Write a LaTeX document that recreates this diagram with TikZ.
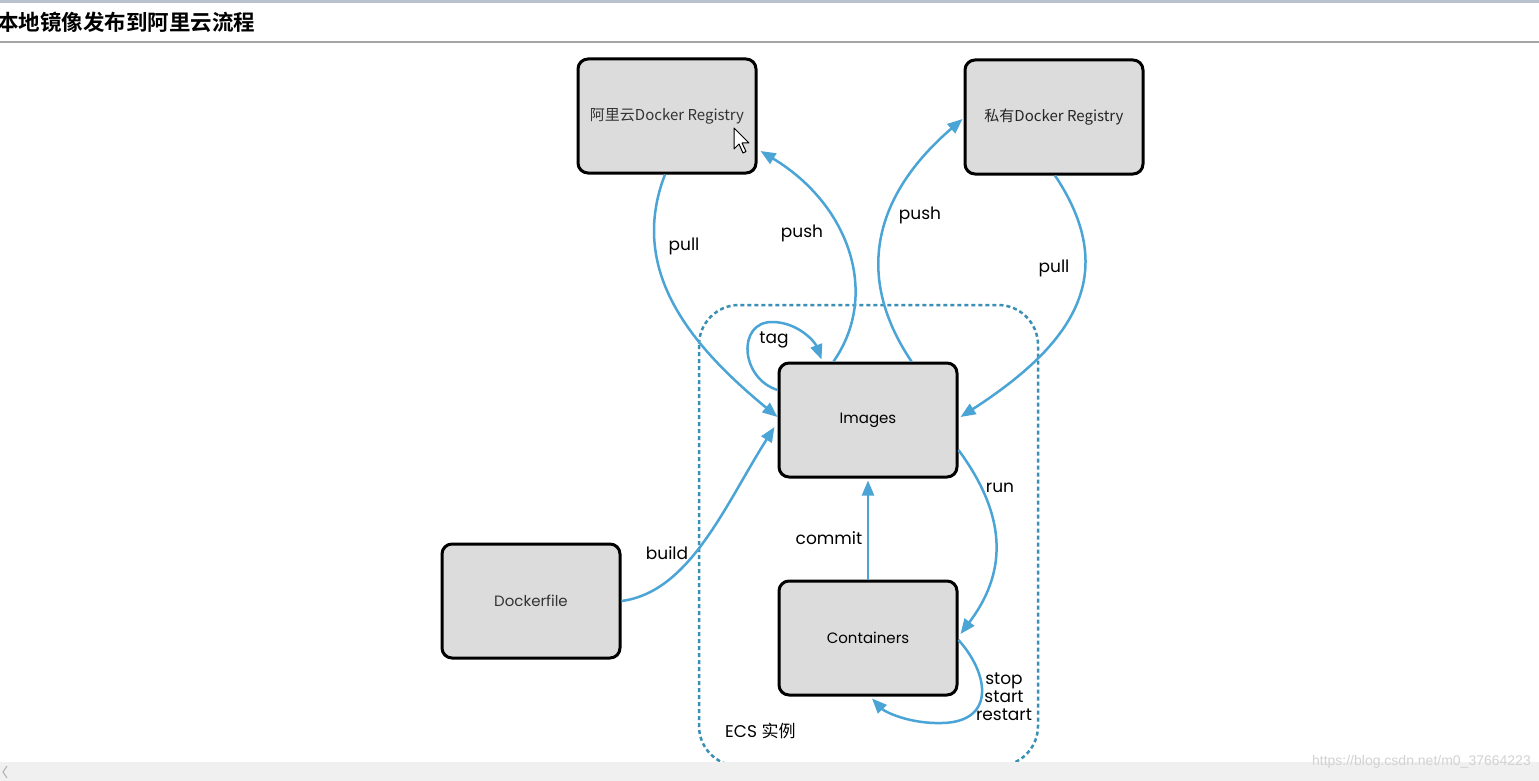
\documentclass[tikz,border=0pt]{standalone}
\usepackage{fontspec}
\setmainfont{Poppins}
\newfontfamily\cjk{Noto Sans CJK SC}
\newfontfamily\cjkb{Noto Sans CJK SC Bold}
\newfontfamily\wm{Liberation Sans}
\usetikzlibrary{arrows.meta,calc}
\definecolor{flow}{HTML}{4AA5D6}
\definecolor{ecs}{HTML}{3A8FB5}
\definecolor{boxfill}{HTML}{DCDCDC}
\definecolor{topline}{HTML}{B8C2CE}
\definecolor{sepline}{HTML}{A5A5A5}
\definecolor{barfill}{HTML}{F0F0F0}
\begin{document}
\begin{tikzpicture}[x=1pt,y=-1pt,
  box/.style={draw=black,line width=3pt,fill=boxfill,rounded corners=10pt,
    minimum width=178pt,minimum height=114pt,inner sep=0pt},
  boxtext/.style={font=\fontsize{15}{18}\selectfont},
  flowline/.style={draw=flow,line width=2.5pt,-{Triangle[length=15pt,width=12pt]}},
  lbl/.style={font=\fontsize{17}{20}\selectfont,inner sep=0pt}]
\useasboundingbox (0,0) rectangle (1539,781);
\fill[white] (0,0) rectangle (1539,781);
% header
\draw[topline,line width=3pt] (0,1.5) -- (1539,1.5);
\node[anchor=west,inner sep=0pt,font=\cjkb\fontsize{21.5}{24}\selectfont] (title) at (-3,22) {本地镜像发布到阿里云流程};
\draw[sepline,line width=2pt] (0,42) -- (1539,42);

% ECS region
\draw[ecs,line width=2.5pt,dash pattern=on 4pt off 3pt,rounded corners=40pt] (699,305) rectangle (1038,766);
\node[lbl,anchor=west] (ecslbl) at (725,731) {ECS {\cjk 实例}};

% boxes
\node[box] (ali) at (667,116) {};
\node[boxtext,text=black!80] at (ali) {{\cjk 阿里云Docker Registry}};
\node[box] (pri) at (1054,117) {};
\node[boxtext,text=black!85] at (pri) {{\cjk 私有Docker Registry}};
\node[box] (img) at (868,420) {};
\node[boxtext] at (img) {Images};
\node[box] (cont) at (868,638) {};
\node[boxtext] at (cont) {Containers};
\node[box] (dock) at (531,601) {};
\node[boxtext,text=black!80] at (dock) {Dockerfile};

% cursor
\filldraw[fill=white,draw=black,line width=1pt,line join=round]
  (734,128) -- (734,149) -- (739,144) -- (743,153) -- (746,151.5) -- (742,143) -- (749,143) -- cycle;

% connectors
\draw[flowline] ($(ali.south)+(-2,0)$) .. controls (628,270) and (690,345) .. ($(img.west)+(0,-3)$);
\node[lbl] (l1) at (684,246) {pull};

\draw[flowline] ($(img.north west)+(56,0)$) .. controls (880,295) and (850,205) .. ($(ali.east)+(3,35)$);
\node[lbl] (l2) at (802,233) {push};

\draw[flowline] ($(img.north west)+(134,0)$) .. controls (850,270) and (880,190) .. ($(pri.west)+(-1,2)$);
\node[lbl] (l3) at (920,215) {push};

\draw[flowline] ($(pri.south)+(1,0)$) .. controls (1118,270) and (1080,340) .. ($(img.east)+(2,-3)$);
\node[lbl] (l4) at (1054,268) {pull};

\draw[flowline] ($(img.west)+(0,-30)$) .. controls (740,378) and (737,322) .. (772,322) .. controls (798,322) and (815,342) .. ($(img.north west)+(44,-2)$);
\node[lbl] (l5) at (774,340) {tag};

\draw[flowline] (dock.east) .. controls (690,592) and (725,505) .. ($(img.west)+(-3,7)$);
\node[lbl] (l6) at (667,553) {build};

\draw[flowline] (cont.north) -- ($(img.south)+(0,2)$);
\node[lbl] (l7) at (829,538) {commit};

\draw[flowline] ($(img.east)+(0,30)$) .. controls (1010,520) and (1005,575) .. ($(cont.east)+(2,-4)$);
\node[lbl] (l8) at (1000,488) {run};

\draw[flowline] ($(cont.east)+(0,2)$) .. controls (990,675) and (995,722) .. (942,723) .. controls (910,724) and (885,712) .. ($(cont.south)+(4,2)$);
\node[lbl,align=center,font=\fontsize{17}{18}\selectfont] (l9) at (1004,697) {stop\\start\\restart};

% bottom bar
\fill[barfill] (0,762) rectangle (1539,781);
\draw[gray!60,line width=1pt] (7,766) -- (3,772) -- (7,778);
\node[anchor=east,inner sep=0pt,text=gray!35,font=\wm\fontsize{14}{16}\selectfont] (wmk) at (1531,762) {https://blog.csdn.net/m0\_37664223};
\end{tikzpicture}
\end{document}
